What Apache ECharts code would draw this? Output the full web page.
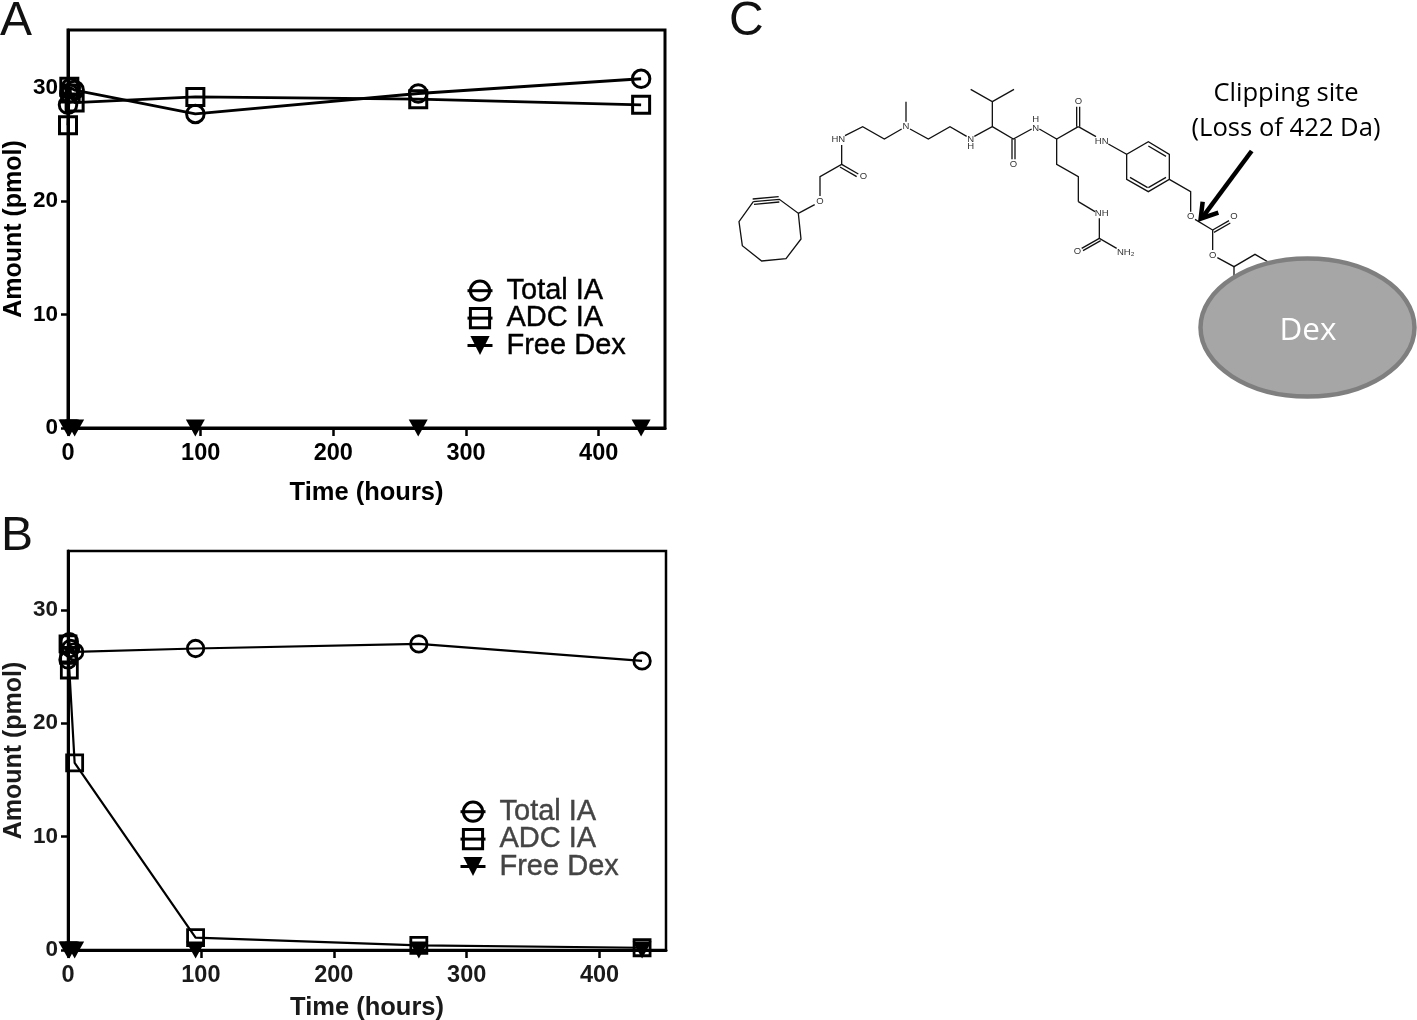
<!DOCTYPE html>
<html><head><meta charset="utf-8">
<style>html,body{margin:0;padding:0;background:#fff}#c{width:1417px;height:1020px}</style>
<script src="https://cdn.jsdelivr.net/npm/echarts@6/dist/echarts.min.js"></script>
</head><body><div id="c"></div>
<script>
// ---- data ----
const xTicks = [0, 100, 200, 300, 400];
const yTicks = [0, 10, 20, 30];
const seriesNames = ['Total IA', 'ADC IA', 'Free Dex'];

const totalTimesA = [0, 1, 2, 5, 96, 264, 432];
const totalValuesA = [28.5, 29.5, 30, 29.8, 27.7, 29.5, 30.8];
const adcTimesA = [0, 1, 2, 5, 96, 264, 432];
const adcValuesA = [26.7, 30.1, 29.5, 28.7, 29.2, 29, 28.5];
const freeTimesA = [0, 1, 5, 96, 264, 432];
const freeValuesA = [0, 0, 0, 0, 0, 0];

const totalTimesB = [0, 1, 2, 5, 96, 264, 432];
const totalValuesB = [25.6, 27.2, 26.6, 26.3, 26.6, 27, 25.5];
const adcTimesB = [0, 0.5, 1, 5, 96, 264, 432];
const adcValuesB = [27, 26, 24.7, 16.5, 1.1, 0.4, 0.2];
const freeTimesB = [0, 1, 5, 96, 264, 432];
const freeValuesB = [0, 0, 0, 0, 0, 0];

const pairs = (xs, ys) => xs.map((x, i) => [x, ys[i]]);
const TRI = 'path://M0 0L20 0L10 18Z';
const BOLD = 'Liberation Sans';

function axisPair(g, ink) {
  return {
    x: {
      type: 'value', gridIndex: g, min: 0, max: 450,
      name: 'Time (hours)', nameLocation: 'middle',
      nameGap: g === 0 ? 52 : 45,
      nameTextStyle: { color: ink, fontFamily: BOLD, fontWeight: 'bold', fontSize: 25.5 },
      axisLine: { onZero: false, lineStyle: { color: '#000', width: 3 } },
      axisTick: { length: 8, customValues: xTicks, lineStyle: { color: '#000', width: 2.5 } },
      axisLabel: { customValues: xTicks, color: ink, fontFamily: BOLD, fontWeight: 'bold', fontSize: 23.5, margin: 14 },
      splitLine: { show: false }
    },
    y: {
      type: 'value', gridIndex: g, min: 0, max: g === 0 ? 35.1 : 35.2,
      name: 'Amount (pmol)', nameLocation: 'middle', nameGap: 41,
      nameTextStyle: { color: ink, fontFamily: BOLD, fontWeight: 'bold', fontSize: 25 },
      axisLine: { onZero: false, lineStyle: { color: '#000', width: 3 } },
      axisTick: { length: 7, customValues: yTicks, lineStyle: { color: '#000', width: 2.5 } },
      axisLabel: { customValues: yTicks, color: ink, fontFamily: BOLD, fontWeight: 'bold', fontSize: 22.5, margin: 10, padding: [3, 0, 0, 0] },
      splitLine: { show: false }
    }
  };
}
const axA = axisPair(0, '#000'), axB = axisPair(1, '#1a1a1a');

function mk(name, g, data, symbol, size, lw, bw) {
  const filled = name === 'Free Dex';
  return {
    type: 'line', name, xAxisIndex: g, yAxisIndex: g, data,
    symbol, symbolSize: filled ? [size, size * 0.9] : size, clip: false, animation: false,
    showSymbol: true, z: 5, legendHoverLink: false,
    lineStyle: { color: '#000', width: filled ? 0 : lw },
    itemStyle: filled ? { color: '#000', borderWidth: 0 }
      : { color: 'rgba(255,255,255,0)', borderColor: '#000', borderWidth: bw }
  };
}

// ---- molecule sketch (panel C, an illustration) ----
const a = (pts) => pts.map(p => [730 + p[0] / 3, 70 + p[1] / 3]);
const b = (pts) => pts.map(p => [1060 + p[0] / 3, 70 + p[1] / 3]);
const bondsLeft = [
  [[70,395],[148,388],[205,430],[213,507],[168,566],[95,573],[37,527],[27,455],[70,395]],
  [[72,403],[148,396]], [[68,387],[146,380]],
  [[205,430],[254,404]], [[270,378],[270,320],[335,283],[335,225]],
  [[335,283],[385,312]], [[330,291],[380,320]],
  [[345,197],[398,170],[463,207],[515,177]], [[528,155],[528,95]],
  [[540,177],[595,207],[660,170],[710,199]],
  [[733,199],[787,170],[787,95],[722,58]], [[787,95],[852,58]],
  [[787,170],[850,207],[905,177]], [[846,207],[846,268]], [[855,207],[855,268]],
  [[928,177],[980,207],[1045,170]],
  [[980,207],[980,283],[1045,320],[1045,395]]
];
const bondsRight = [
  [[55,170],[108,200]], [[50,170],[50,110]], [[59,170],[59,110]],
  [[145,222],[200,253],[265,215],[328,253],[328,328],[265,365],[200,328],[200,253]],
  [[265,228],[318,259]], [[318,322],[265,353]], [[210,322],[263,353]],
  [[328,328],[392,365],[392,425]], [[405,448],[458,480],[458,540]],
  [[458,480],[507,452]], [[462,487],[511,459]],
  [[472,563],[522,590],[585,553],[640,585]], [[522,590],[522,640]],
  [[55,395],[105,425]], [[118,445],[118,505],[170,535]],
  [[118,505],[65,535]], [[122,512],[69,542]]
];
const atomsLeft = [
  ['O',270,395],['O',400,320],['HN',325,207],['N',528,170],['N',722,207],['H',722,228],
  ['O',850,283],['N',917,175],['H',917,148]
];
const atomsRight = [
  ['HN',125,215],['NH',125,430],['O',52,543],['NH\u2082',197,547],['O',392,440],
  ['O',522,440],['O',458,555],['O',55,95]
];
const gfx = [];
bondsLeft.forEach(p => gfx.push({ type: 'polyline', shape: { points: a(p) }, style: { stroke: '#111', lineWidth: 1.3, fill: null } }));
bondsRight.forEach(p => gfx.push({ type: 'polyline', shape: { points: b(p) }, style: { stroke: '#111', lineWidth: 1.3, fill: null } }));
const atom = (t, x, y) => gfx.push({ type: 'text', x, y, style: { text: t, fill: '#333', font: '9.5px "Liberation Sans"', textAlign: 'center', textVerticalAlign: 'middle' } });
atomsLeft.forEach(t => atom(t[0], 730 + t[1] / 3, 70 + t[2] / 3));
atomsRight.forEach(t => atom(t[0], 1060 + t[1] / 3, 70 + t[2] / 3));
// arrow
gfx.push({ type: 'polyline', shape: { points: b([[575,243],[425,445]]) }, style: { stroke: '#000', lineWidth: 4.5, fill: null } });
gfx.push({ type: 'polyline', shape: { points: b([[428,395],[422,446],[475,428]]) }, style: { stroke: '#000', lineWidth: 4.5, fill: null } });
// Dex ellipse
gfx.push({ type: 'ellipse', shape: { cx: 1307.5, cy: 327.5, rx: 107, ry: 69 }, style: { fill: '#a6a6a6', stroke: '#7f7f7f', lineWidth: 4.5 }, z: 3 });
const txt = (t, x, y, font, fill, align) => gfx.push({ type: 'text', x, y, z: 4, style: { text: t, font, fill, textAlign: align || 'center', textVerticalAlign: 'middle' } });
txt('Dex', 1308, 331, '31.5px "Open Sans"', '#fff');
txt('Clipping site', 1286, 94, '25.6px "Open Sans"', '#000');
txt('(Loss of 422 Da)', 1286, 129, '25.6px "Open Sans"', '#000');
txt('A', 0, 22, '48px "Liberation Sans"', '#111', 'left');
txt('B', 1, 537, '48px "Liberation Sans"', '#111', 'left');
txt('C', 729, 22, '48px "Liberation Sans"', '#111', 'left');

function legend(left, top, color) {
  return {
    orient: 'vertical', left, top, itemWidth: 25, itemHeight: 24, itemGap: -2, padding: 0,
    selectedMode: false, data: seriesNames,
    itemStyle: { borderWidth: 3 }, lineStyle: { width: 3 },
    textStyle: { color, fontFamily: 'Liberation Sans', fontSize: 29, lineHeight: 24, padding: [0, 0, 0, 9],
      textBorderColor: color, textBorderWidth: 0.4 }
  };
}

const chart = echarts.init(document.getElementById('c'), null, { renderer: 'canvas' });
chart.setOption({
  backgroundColor: '#fff', animation: false, tooltip: { show: false },
  grid: [
    { left: 68, top: 30, width: 597, height: 398, show: true, outerBoundsMode: 'none', borderColor: '#000', borderWidth: 3, backgroundColor: 'transparent' },
    { left: 68, top: 551, width: 598, height: 399, show: true, outerBoundsMode: 'none', borderColor: '#000', borderWidth: 2.5, backgroundColor: 'transparent' }
  ],
  xAxis: [axA.x, axB.x], yAxis: [axA.y, axB.y],
  legend: [legend(466, 276, '#000'), legend(459, 797, '#444')],
  series: [
    mk('Total IA', 0, pairs(totalTimesA, totalValuesA), 'circle', 17.5, 2.8, 3),
    mk('ADC IA', 0, pairs(adcTimesA, adcValuesA), 'rect', 17, 2.8, 3),
    mk('Free Dex', 0, pairs(freeTimesA, freeValuesA), TRI, 19, 0, 0),
    mk('Total IA', 1, pairs(totalTimesB, totalValuesB), 'circle', 16.5, 2.2, 2.8),
    mk('ADC IA', 1, pairs(adcTimesB, adcValuesB), 'rect', 16, 2.2, 2.8),
    mk('Free Dex', 1, pairs(freeTimesB, freeValuesB), TRI, 19, 0, 0)
  ],
  graphic: { elements: gfx }
});
</script></body></html>
